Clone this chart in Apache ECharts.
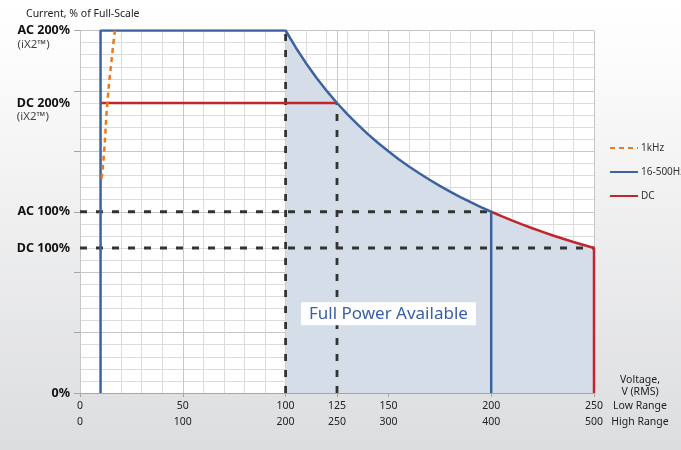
<!DOCTYPE html>
<html>
<head>
<meta charset="utf-8">
<script src="https://cdn.jsdelivr.net/npm/echarts@6/dist/echarts.min.js"></script>
<style>
html,body{margin:0;padding:0;}
#c{width:681px;height:450px;}
</style>
</head>
<body>
<div id="c"></div>
<script>
// X ticks: voltage, low range and high range
var lowRangeTicks = [0, 50, 100, 125, 150, 200, 250];
var highRangeTicks = [0, 100, 200, 250, 300, 400, 500];
// Y ticks (internal scale: AC 200% = 240)
var yTickValues = [0, 96, 120, 192, 240];
var yTickNames = ['0%', 'DC 100%', 'AC 100%', 'DC 200%', 'AC 200%'];
var yTickSub = ['', '', '', '(iX2™)', '(iX2™)'];

// 16-500Hz envelope
var acLine = [[10,0],[10,240],[100,240],[105,228.6],[110,218.2],[115,208.7],[120,200],[125,192],[130,184.6],[135,177.8],[140,171.4],[145,165.5],[150,160],[155,154.8],[160,150],[165,145.5],[170,141.2],[175,137.1],[180,133.3],[185,129.7],[190,126.3],[195,123.1],[200,120],[200,0]];
// DC limit
var dcLine1 = [[10,192],[125,192]];
var dcLine2 = [[200,120],[205,117.1],[210,114.3],[215,111.6],[220,109.1],[225,106.7],[230,104.3],[235,102.1],[240,100],[245,98],[250,96],[250,0]];
// 1kHz
var khzLine = [[10.5,142],[11.7,159],[13.3,192],[15.7,225],[17,240]];
// Full power region
var fullPower = [[100,240],[105,228.6],[110,218.2],[115,208.7],[120,200],[125,192],[130,184.6],[135,177.8],[140,171.4],[145,165.5],[150,160],[155,154.8],[160,150],[165,145.5],[170,141.2],[175,137.1],[180,133.3],[185,129.7],[190,126.3],[195,123.1],[200,120],[205,117.1],[210,114.3],[215,111.6],[220,109.1],[225,106.7],[230,104.3],[235,102.1],[240,100],[245,98],[250,96]];
// Reference dashed lines
var refAC100 = [[0,120],[200,120]];
var refDC100 = [[0,96],[250,96]];
var ref100V = [[100,0],[100,240]];
var ref125V = [[125,0],[125,192]];

var FONT = 'Noto Sans';
var chart = echarts.init(document.getElementById('c'));
var dashStyle = {color:'#333333', width:2.8, type:[7,9]};
function refSeries(d){
  return {type:'line', data:d, symbol:'none', silent:true, lineStyle:dashStyle, z:3, legendHoverLink:false};
}
var option = {
  animation:false,
  backgroundColor:{type:'linear', x:0, y:0, x2:0, y2:1, colorStops:[{offset:0,color:'#ffffff'},{offset:0.15,color:'#fbfbfb'},{offset:1,color:'#dcdddf'}]},
  textStyle:{fontFamily:FONT},
  title:{text:'Current, % of Full-Scale', left:21, top:4, textStyle:{fontSize:10.5, fontWeight:'normal', color:'#222', fontFamily:FONT}},
  legend:{
    orient:'vertical', left:604, top:138, itemGap:14, itemWidth:28, itemHeight:10,
    itemStyle:{opacity:0},
    textStyle:{fontSize:10, color:'#333', fontFamily:FONT, padding:[0,0,0,-2]},
    data:['1kHz','16-500Hz','DC']
  },
  grid:{left:80, right:87, top:30.5, bottom:57, backgroundColor:'#ffffff', show:true, borderWidth:0},
  xAxis:{
    type:'value', min:0, max:250, interval:50,
    axisLine:{show:true, lineStyle:{color:'#a6a6a6', width:1}},
    axisTick:{show:true, customValues:lowRangeTicks, length:4, lineStyle:{color:'#a6a6a6'}},
    axisLabel:{customValues:lowRangeTicks, margin:5, fontSize:10.5, color:'#222', lineHeight:16,
      formatter:function(v){var i=lowRangeTicks.indexOf(v); return lowRangeTicks[i]+'\n'+highRangeTicks[i];}},
    splitLine:{show:true, lineStyle:{color:'#c6c6c6', width:1}},
    minorTick:{show:false, splitNumber:5},
    minorSplitLine:{show:true, lineStyle:{color:'#dcdcdc', width:1}}
  },
  yAxis:{
    type:'value', min:0, max:240, interval:40,
    axisLine:{show:false},
    axisTick:{show:true, length:6, lineStyle:{color:'#a6a6a6'}},
    axisLabel:{customValues:yTickValues, margin:10, color:'#111',
      formatter:function(v){var i=yTickValues.indexOf(v);
        if(yTickSub[i]) return '{d| }\n{b|'+yTickNames[i]+'}\n{s|'+yTickSub[i]+'}';
        return '{b|'+yTickNames[i]+'}';},
      rich:{
        b:{fontSize:12.5, fontWeight:'bold', color:'#111', fontFamily:FONT, lineHeight:14, align:'right'},
        s:{fontSize:11.5, color:'#444', fontFamily:FONT, lineHeight:14, align:'left'},
        d:{fontSize:11, lineHeight:14}
      }
    },
    splitLine:{show:true, lineStyle:{color:'#c6c6c6', width:1}},
    minorTick:{show:false, splitNumber:5},
    minorSplitLine:{show:true, lineStyle:{color:'#dcdcdc', width:1}}
  },
  series:[
    {name:'area', type:'line', data:fullPower, symbol:'none', silent:true, lineStyle:{width:0}, areaStyle:{color:'#d5dde8', opacity:1}, z:1, legendHoverLink:false},
    refSeries(refAC100), refSeries(refDC100), refSeries(ref100V), refSeries(ref125V),
    {name:'DC', type:'line', data:dcLine1, symbol:'none', lineStyle:{color:'#c0262c', width:2.5}, itemStyle:{color:'#c0262c'}, z:4},
    {name:'DC', type:'line', data:dcLine2, symbol:'none', lineStyle:{color:'#c0262c', width:2.5}, itemStyle:{color:'#c0262c'}, z:4},
    {name:'16-500Hz', type:'line', data:acLine, symbol:'none', lineStyle:{color:'#3c63a0', width:2.5}, itemStyle:{color:'#3c63a0'}, z:5},
    {name:'1kHz', type:'line', data:khzLine, symbol:'none', smooth:true, lineStyle:{color:'#f07818', width:2.5, type:[5,4]}, itemStyle:{color:'#f07818'}, z:6}
  ]
};
chart.setOption(option);

var p = chart.convertToPixel({gridIndex:0}, [150, 52.5]);
chart.setOption({
  graphic:[
    {type:'text', x:p[0], y:p[1], z:100, style:{text:'Full Power Available', fill:'#3a5fa8', font:'17px "Noto Sans"', align:'center', verticalAlign:'middle', backgroundColor:'#ffffff', padding:[3,8,3,8]}},
    {type:'text', x:640, y:386, z:100, style:{text:'Voltage,\nV (RMS)', fill:'#222', font:'10.5px "Noto Sans"', align:'center', verticalAlign:'middle', lineHeight:12}},
    {type:'text', x:640, y:406, z:100, style:{text:'Low Range', fill:'#222', font:'10.5px "Noto Sans"', align:'center', verticalAlign:'middle'}},
    {type:'text', x:640, y:422, z:100, style:{text:'High Range', fill:'#222', font:'10.5px "Noto Sans"', align:'center', verticalAlign:'middle'}}
  ]
});
</script>
</body>
</html>
